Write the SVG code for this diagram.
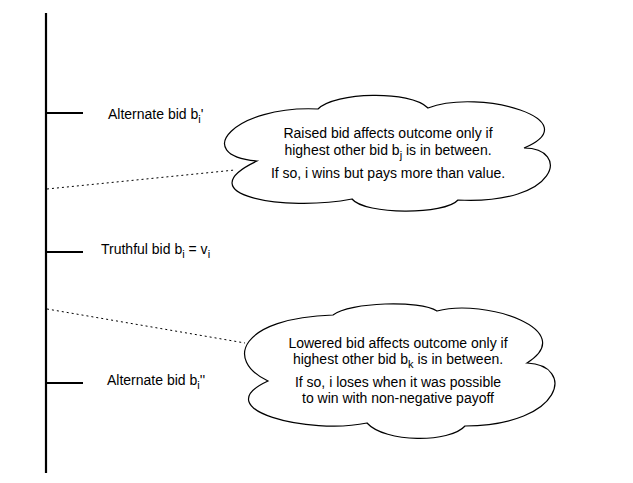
<svg xmlns="http://www.w3.org/2000/svg" width="633" height="483" viewBox="0 0 633 483">
<style>
  .axis { stroke: #000; stroke-width: 2.2; fill: none; }
  .dot { stroke: #000; stroke-width: 1; stroke-dasharray: 2 3; fill: none; }
  .cloud { stroke: #000; stroke-width: 1.2; fill: #fff; }
  .lbl { font-family: "Liberation Sans", Arial, Helvetica, sans-serif; font-size: 14px; fill: #000; }
  .ct { font-family: "Liberation Sans", Arial, Helvetica, sans-serif; font-size: 14px; fill: #000; text-anchor: middle; }
  .sub { font-size: 11px; }
</style>
<rect width="633" height="483" fill="#fff"/>
<g id="axis">
  <line class="axis" x1="46" y1="13" x2="46" y2="473"/>
  <line class="axis" x1="46" y1="113" x2="83" y2="113"/>
  <line class="axis" x1="46" y1="252" x2="83" y2="252"/>
  <line class="axis" x1="46" y1="383" x2="83" y2="383"/>
</g>
<g id="connectors">
  <line class="dot" x1="47" y1="189" x2="235" y2="170"/>
  <line class="dot" x1="47" y1="309" x2="245" y2="343"/>
</g>
<g id="label-alt-high">
  <text class="lbl" x="108" y="119">Alternate bid b<tspan class="sub" dy="4">i</tspan><tspan dy="-4">'</tspan></text>
</g>
<g id="label-truthful">
  <text class="lbl" x="101" y="254">Truthful bid b<tspan class="sub" dy="4">i</tspan><tspan dy="-4"> = v</tspan><tspan class="sub" dy="4">i</tspan></text>
</g>
<g id="label-alt-low">
  <text class="lbl" x="107" y="385">Alternate bid b<tspan class="sub" dy="4">i</tspan><tspan dy="-4">''</tspan></text>
</g>
<g id="cloud-raised">
  <path class="cloud" d="M257,161 C190,155 235,105 318,109 C335,92 410,90 428,108 C480,88 590,120 524,148 C570,148 560,205 458,200 C445,215 365,215 352,199 C285,212 185,195 257,161 Z"/>
  <text class="ct" x="388" y="138">Raised bid affects outcome only if</text>
  <text class="ct" x="388" y="155">highest other bid b<tspan class="sub" dy="4">j</tspan><tspan dy="-4"> is in between.</tspan></text>
  <text class="ct" x="388" y="178">If so, i wins but pays more than value.</text>
</g>
<g id="cloud-lowered">
  <path class="cloud" d="M268,381 C224,360 240,318 333,315 C350,302 420,300 437,311 C485,298 580,330 527,363 C575,365 565,425 465,426 C450,443 385,443 367,423 C310,435 205,410 268,381 Z"/>
  <text class="ct" x="398" y="348">Lowered bid affects outcome only if</text>
  <text class="ct" x="398" y="364">highest other bid b<tspan class="sub" dy="4">k</tspan><tspan dy="-4"> is in between.</tspan></text>
  <text class="ct" x="398" y="387">If so, i loses when it was possible</text>
  <text class="ct" x="398" y="403">to win with non-negative payoff</text>
</g>
</svg>
